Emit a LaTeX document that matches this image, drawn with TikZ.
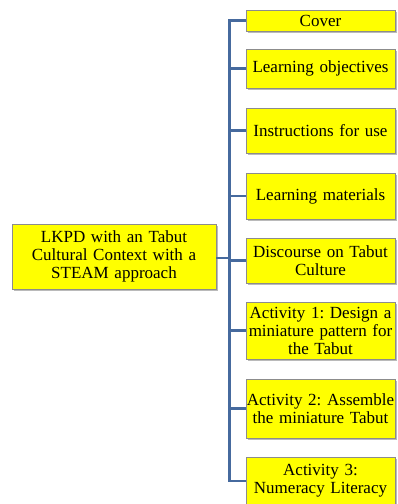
\documentclass[tikz,border=0pt]{standalone}
\usepackage{fontspec}
\setmainfont{Liberation Serif}
\usetikzlibrary{shadows}
\definecolor{boxyellow}{RGB}{255,255,0}
\definecolor{linkblue}{RGB}{70,106,158}

\begin{document}
\begin{tikzpicture}[x=1pt, y=-1pt,
  box/.style={draw=black!45, fill=boxyellow, align=center, inner sep=0.5pt,
    font=\fontsize{17}{18}\selectfont\frenchspacing,
    drop shadow={shadow xshift=1.5pt, shadow yshift=-1.5pt, opacity=0.45, fill=black!60}},
  part/.style={box, minimum width=149pt, text width=148pt},
  link/.style={draw=linkblue, line width=2.8pt}]

  % Marco
  \useasboundingbox (0,0) rectangle (397,504);

  % Nodo principal
  \node[box, minimum width=204pt, text width=200pt, minimum height=65pt] (lkpd) at (114,256.5)
    {LKPD with an Tabut\\Cultural Context with a\\STEAM approach};

  % Partes del LKPD
  \node[part, minimum height=21pt] (cover) at (320.5,20.5) {Cover};
  \node[part, minimum height=39pt] (objectives) at (320.5,68.5) {Learning objectives};
  \node[part, minimum height=45pt] (instructions) at (320.5,130.5) {Instructions for use};
  \node[part, minimum height=46pt] (materials) at (320.5,196) {Learning materials};
  \node[part, minimum height=45pt] (discourse) at (320.5,260.5) {Discourse on Tabut\\Culture};
  \node[part, minimum height=57pt] (act1) at (320.5,330.5) {Activity 1: Design a\\miniature pattern for\\the Tabut};
  \node[part, minimum height=59pt] (act2) at (320.5,408.5) {Activity 2: Assemble\\the miniature Tabut};
  \node[part, minimum height=48pt] (act3) at (320.5,481) {Activity 3:\\Numeracy Literacy};

  % Tronco vertical
  \coordinate (trunk) at (229.5,258);
  \draw[link] (lkpd.east |- trunk) -- (trunk);
  \draw[link, line cap=rect] (trunk |- cover.west) -- (trunk |- act3.west);

  % Ramas hacia cada parte
  \foreach \n in {cover,objectives,instructions,materials,discourse,act1,act2,act3}
    \draw[link] (trunk |- \n.west) -- (\n.west);

\end{tikzpicture}
\end{document}
